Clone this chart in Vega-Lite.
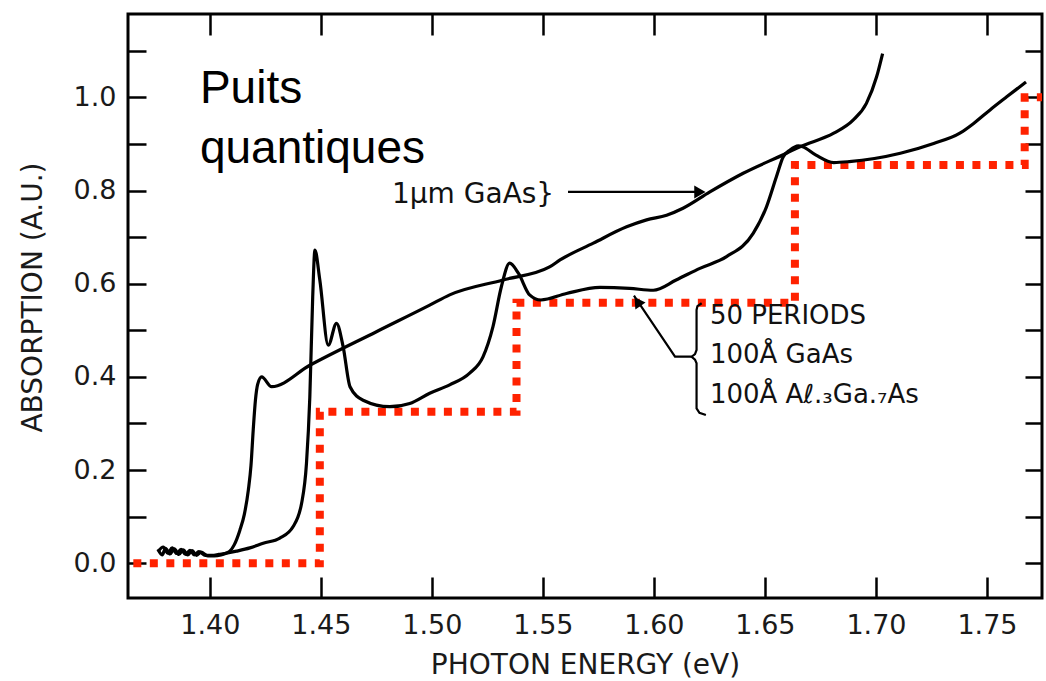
{
  "$schema": "https://vega.github.io/schema/vega-lite/v6.json",
  "width": 914,
  "height": 584,
  "autosize": {"type": "none"},
  "padding": {"left": 128, "top": 14, "right": 4, "bottom": 83},
  "background": "white",
  "config": {"view": {"stroke": "#000", "strokeWidth": 3}, "font": "DejaVu Sans"},
  "datasets": {
    "step": [
      {"x": 1.3655, "y": 0, "i": 0},
      {"x": 1.4495, "y": 0, "i": 1},
      {"x": 1.4495, "y": 0.325, "i": 2},
      {"x": 1.5381, "y": 0.325, "i": 3},
      {"x": 1.5381, "y": 0.559, "i": 4},
      {"x": 1.6635, "y": 0.559, "i": 5},
      {"x": 1.6635, "y": 0.855, "i": 6},
      {"x": 1.767, "y": 0.855, "i": 7},
      {"x": 1.767, "y": 1.0, "i": 8},
      {"x": 1.7748, "y": 1.0, "i": 9}
    ],
    "curves": [
      {"s": "bulk", "x": 1.3766, "y": 0.030},
      {"s": "bulk", "x": 1.3785, "y": 0.018},
      {"s": "bulk", "x": 1.3800, "y": 0.032},
      {"s": "bulk", "x": 1.3820, "y": 0.020},
      {"s": "bulk", "x": 1.3840, "y": 0.031},
      {"s": "bulk", "x": 1.3860, "y": 0.019},
      {"s": "bulk", "x": 1.3880, "y": 0.029},
      {"s": "bulk", "x": 1.3900, "y": 0.018},
      {"s": "bulk", "x": 1.3920, "y": 0.027},
      {"s": "bulk", "x": 1.3940, "y": 0.017},
      {"s": "bulk", "x": 1.3960, "y": 0.024},
      {"s": "bulk", "x": 1.3990, "y": 0.016},
      {"s": "bulk", "x": 1.4020, "y": 0.016},
      {"s": "bulk", "x": 1.4050, "y": 0.018},
      {"s": "bulk", "x": 1.4070, "y": 0.021},
      {"s": "bulk", "x": 1.4090, "y": 0.026},
      {"s": "bulk", "x": 1.4110, "y": 0.040},
      {"s": "bulk", "x": 1.4135, "y": 0.071},
      {"s": "bulk", "x": 1.4155, "y": 0.105},
      {"s": "bulk", "x": 1.4173, "y": 0.157},
      {"s": "bulk", "x": 1.4185, "y": 0.210},
      {"s": "bulk", "x": 1.4195, "y": 0.286},
      {"s": "bulk", "x": 1.4205, "y": 0.350},
      {"s": "bulk", "x": 1.4215, "y": 0.384},
      {"s": "bulk", "x": 1.4233, "y": 0.400},
      {"s": "bulk", "x": 1.4278, "y": 0.379},
      {"s": "bulk", "x": 1.4450, "y": 0.425},
      {"s": "bulk", "x": 1.4750, "y": 0.497},
      {"s": "bulk", "x": 1.4990, "y": 0.554},
      {"s": "bulk", "x": 1.5080, "y": 0.576},
      {"s": "bulk", "x": 1.5320, "y": 0.608},
      {"s": "bulk", "x": 1.5530, "y": 0.636},
      {"s": "bulk", "x": 1.5577, "y": 0.651},
      {"s": "bulk", "x": 1.5727, "y": 0.687},
      {"s": "bulk", "x": 1.5877, "y": 0.722},
      {"s": "bulk", "x": 1.5967, "y": 0.737},
      {"s": "bulk", "x": 1.6057, "y": 0.747},
      {"s": "bulk", "x": 1.6131, "y": 0.762},
      {"s": "bulk", "x": 1.6252, "y": 0.797},
      {"s": "bulk", "x": 1.6402, "y": 0.837},
      {"s": "bulk", "x": 1.6597, "y": 0.880},
      {"s": "bulk", "x": 1.6658, "y": 0.894},
      {"s": "bulk", "x": 1.6810, "y": 0.923},
      {"s": "bulk", "x": 1.6897, "y": 0.951},
      {"s": "bulk", "x": 1.6957, "y": 0.987},
      {"s": "bulk", "x": 1.7003, "y": 1.044},
      {"s": "bulk", "x": 1.7030, "y": 1.094},
      {"s": "qw", "x": 1.3766, "y": 0.025},
      {"s": "qw", "x": 1.3790, "y": 0.035},
      {"s": "qw", "x": 1.3810, "y": 0.022},
      {"s": "qw", "x": 1.3830, "y": 0.033},
      {"s": "qw", "x": 1.3850, "y": 0.021},
      {"s": "qw", "x": 1.3870, "y": 0.030},
      {"s": "qw", "x": 1.3890, "y": 0.019},
      {"s": "qw", "x": 1.3910, "y": 0.028},
      {"s": "qw", "x": 1.3930, "y": 0.018},
      {"s": "qw", "x": 1.3950, "y": 0.025},
      {"s": "qw", "x": 1.3980, "y": 0.017},
      {"s": "qw", "x": 1.4010, "y": 0.017},
      {"s": "qw", "x": 1.4040, "y": 0.019},
      {"s": "qw", "x": 1.4080, "y": 0.022},
      {"s": "qw", "x": 1.4120, "y": 0.026},
      {"s": "qw", "x": 1.4180, "y": 0.033},
      {"s": "qw", "x": 1.4240, "y": 0.043},
      {"s": "qw", "x": 1.4315, "y": 0.054},
      {"s": "qw", "x": 1.4375, "y": 0.079},
      {"s": "qw", "x": 1.4413, "y": 0.129},
      {"s": "qw", "x": 1.4435, "y": 0.215},
      {"s": "qw", "x": 1.4450, "y": 0.357},
      {"s": "qw", "x": 1.4463, "y": 0.572},
      {"s": "qw", "x": 1.4473, "y": 0.672},
      {"s": "qw", "x": 1.4495, "y": 0.608},
      {"s": "qw", "x": 1.4533, "y": 0.468},
      {"s": "qw", "x": 1.4570, "y": 0.515},
      {"s": "qw", "x": 1.4600, "y": 0.465},
      {"s": "qw", "x": 1.4631, "y": 0.379},
      {"s": "qw", "x": 1.4690, "y": 0.350},
      {"s": "qw", "x": 1.4810, "y": 0.336},
      {"s": "qw", "x": 1.4900, "y": 0.343},
      {"s": "qw", "x": 1.4990, "y": 0.365},
      {"s": "qw", "x": 1.5080, "y": 0.383},
      {"s": "qw", "x": 1.5170, "y": 0.408},
      {"s": "qw", "x": 1.5230, "y": 0.443},
      {"s": "qw", "x": 1.5275, "y": 0.508},
      {"s": "qw", "x": 1.5313, "y": 0.594},
      {"s": "qw", "x": 1.5350, "y": 0.644},
      {"s": "qw", "x": 1.5390, "y": 0.622},
      {"s": "qw", "x": 1.5440, "y": 0.576},
      {"s": "qw", "x": 1.5490, "y": 0.565},
      {"s": "qw", "x": 1.5606, "y": 0.579},
      {"s": "qw", "x": 1.5757, "y": 0.592},
      {"s": "qw", "x": 1.5890, "y": 0.590},
      {"s": "qw", "x": 1.5997, "y": 0.586},
      {"s": "qw", "x": 1.6100, "y": 0.608},
      {"s": "qw", "x": 1.6207, "y": 0.633},
      {"s": "qw", "x": 1.6327, "y": 0.658},
      {"s": "qw", "x": 1.6447, "y": 0.708},
      {"s": "qw", "x": 1.6507, "y": 0.765},
      {"s": "qw", "x": 1.6552, "y": 0.830},
      {"s": "qw", "x": 1.6582, "y": 0.872},
      {"s": "qw", "x": 1.6613, "y": 0.887},
      {"s": "qw", "x": 1.6650, "y": 0.896},
      {"s": "qw", "x": 1.6670, "y": 0.894},
      {"s": "qw", "x": 1.6730, "y": 0.876},
      {"s": "qw", "x": 1.6810, "y": 0.860},
      {"s": "qw", "x": 1.6880, "y": 0.862},
      {"s": "qw", "x": 1.7110, "y": 0.880},
      {"s": "qw", "x": 1.7260, "y": 0.901},
      {"s": "qw", "x": 1.7378, "y": 0.923},
      {"s": "qw", "x": 1.7440, "y": 0.944},
      {"s": "qw", "x": 1.7514, "y": 0.973},
      {"s": "qw", "x": 1.7589, "y": 1.001},
      {"s": "qw", "x": 1.7676, "y": 1.033}
    ],
    "ann": [
      {"g": "a1", "i": 0, "x": 1.5613, "y": 0.797},
      {"g": "a1", "i": 1, "x": 1.6194, "y": 0.797},
      {"g": "a2", "i": 0, "x": 1.6170, "y": 0.4433},
      {"g": "a2", "i": 1, "x": 1.6095, "y": 0.4433},
      {"g": "a2", "i": 2, "x": 1.5910, "y": 0.5745},
      {"g": "b", "i": 0, "x": 1.6215, "y": 0.558},
      {"g": "b", "i": 1, "x": 1.6196, "y": 0.552},
      {"g": "b", "i": 2, "x": 1.6192, "y": 0.5436},
      {"g": "b", "i": 3, "x": 1.6192, "y": 0.4577},
      {"g": "b", "i": 4, "x": 1.6185, "y": 0.4490},
      {"g": "b", "i": 5, "x": 1.6170, "y": 0.4433},
      {"g": "b", "i": 6, "x": 1.6185, "y": 0.4370},
      {"g": "b", "i": 7, "x": 1.6192, "y": 0.4292},
      {"g": "b", "i": 8, "x": 1.6192, "y": 0.3326},
      {"g": "b", "i": 9, "x": 1.6205, "y": 0.3230},
      {"g": "b", "i": 10, "x": 1.6234, "y": 0.3182}
    ],
    "puits": [
      {"x": 1.3955, "y": 0.988, "t": "Puits"},
      {"x": 1.3955, "y": 0.859, "t": "quantiques"}
    ],
    "bulklabel": [
      {"x": 1.482, "y": 0.773, "t": "1μm GaAs}"}
    ],
    "qwlabel": [
      {"x": 1.6252, "y": 0.513, "t": "50 PERIODS"},
      {"x": 1.6252, "y": 0.429, "t": "100Å GaAs"},
      {"x": 1.6252, "y": 0.344, "t": "100Å Aℓ.₃Ga.₇As"}
    ],
    "head1": [{"x": 1.6207, "y": 0.797}],
    "head2": [{"x": 1.5926, "y": 0.5616}]
  },
  "layer": [
    {
      "data": {"name": "step"},
      "mark": {"type": "line", "color": "#ff2200", "strokeWidth": 8, "strokeDash": [8, 8.5], "strokeCap": "butt", "clip": true},
      "encoding": {
        "x": {"field": "x", "type": "quantitative", "scale": {"domain": [1.3631, 1.7748], "nice": false, "zero": false},
          "axis": {"orient": "bottom", "values": [1.40, 1.45, 1.50, 1.55, 1.60, 1.65, 1.70, 1.75], "format": ".2f",
            "domain": false, "grid": false, "tickSize": -21, "tickWidth": 2.5, "tickColor": "#000",
            "labelPadding": 35, "labelFontSize": 27, "labelColor": "#1a1a1a", "labelFont": "DejaVu Sans", "labelFlush": false, "labelOverlap": false,
            "title": "PHOTON ENERGY (eV)", "titleFont": "DejaVu Sans", "titleFontSize": 28, "titleFontWeight": "normal", "titleColor": "#1a1a1a",
            "titleX": 457, "titleY": 75, "titleAlign": "center", "titleBaseline": "alphabetic"}},
        "y": {"field": "y", "type": "quantitative", "scale": {"domain": [-0.0745, 1.1788], "nice": false, "zero": false},
          "axis": {"orient": "left", "values": [0, 0.1, 0.2, 0.3, 0.4, 0.5, 0.6, 0.7, 0.8, 0.9, 1.0, 1.1],
            "labelExpr": "round(datum.value*10) % 2 == 0 ? format(datum.value, '.1f') : ''",
            "domain": false, "grid": false, "tickSize": -18, "tickWidth": 2.5, "tickColor": "#000",
            "labelPadding": 30, "labelFontSize": 27, "labelColor": "#1a1a1a", "labelFont": "DejaVu Sans", "labelFlush": false, "labelOverlap": false,
            "title": "ABSORPTION (A.U.)", "titleFont": "DejaVu Sans", "titleFontSize": 28, "titleFontWeight": "normal", "titleColor": "#1a1a1a",
            "titleAngle": -90, "titleX": -87, "titleY": 283, "titleAlign": "center", "titleBaseline": "alphabetic"}},
        "order": {"field": "i", "type": "quantitative"}
      }
    },
    {
      "data": {"name": "curves"},
      "mark": {"type": "line", "color": "#000", "strokeWidth": 3.2, "interpolate": "monotone", "clip": true},
      "encoding": {
        "x": {"field": "x", "type": "quantitative", "scale": {"domain": [1.3631, 1.7748], "nice": false, "zero": false},
          "axis": {"orient": "top", "values": [1.40, 1.45, 1.50, 1.55, 1.60, 1.65, 1.70, 1.75], "labels": false, "title": null,
            "domain": false, "grid": false, "tickSize": -21, "tickWidth": 2.5, "tickColor": "#000"}},
        "y": {"field": "y", "type": "quantitative", "scale": {"domain": [-0.0745, 1.1788], "nice": false, "zero": false},
          "axis": {"orient": "right", "values": [0, 0.1, 0.2, 0.3, 0.4, 0.5, 0.6, 0.7, 0.8, 0.9, 1.0, 1.1], "labels": false, "title": null,
            "domain": false, "grid": false, "tickSize": -17, "tickWidth": 2.5, "tickColor": "#000"}},
        "detail": {"field": "s", "type": "nominal"}
      }
    },
    {
      "data": {"name": "ann"},
      "mark": {"type": "line", "color": "#000", "strokeWidth": 2.2, "clip": true},
      "encoding": {
        "x": {"field": "x", "type": "quantitative", "scale": {"domain": [1.3631, 1.7748], "nice": false, "zero": false}, "axis": null},
        "y": {"field": "y", "type": "quantitative", "scale": {"domain": [-0.0745, 1.1788], "nice": false, "zero": false}, "axis": null},
        "detail": {"field": "g", "type": "nominal"},
        "order": {"field": "i", "type": "quantitative"}
      }
    },
    {
      "data": {"name": "head1"},
      "mark": {"type": "point", "shape": "triangle-right", "filled": true, "color": "#000", "opacity": 1, "size": 170},
      "encoding": {
        "x": {"field": "x", "type": "quantitative", "scale": {"domain": [1.3631, 1.7748], "nice": false, "zero": false}, "axis": null},
        "y": {"field": "y", "type": "quantitative", "scale": {"domain": [-0.0745, 1.1788], "nice": false, "zero": false}, "axis": null}
      }
    },
    {
      "data": {"name": "head2"},
      "mark": {"type": "point", "shape": "triangle-up", "angle": -34, "filled": true, "color": "#000", "opacity": 1, "size": 150},
      "encoding": {
        "x": {"field": "x", "type": "quantitative", "scale": {"domain": [1.3631, 1.7748], "nice": false, "zero": false}, "axis": null},
        "y": {"field": "y", "type": "quantitative", "scale": {"domain": [-0.0745, 1.1788], "nice": false, "zero": false}, "axis": null}
      }
    },
    {
      "data": {"name": "puits"},
      "mark": {"type": "text", "font": "Liberation Sans", "fontSize": 46, "color": "#000", "align": "left", "baseline": "alphabetic"},
      "encoding": {
        "x": {"field": "x", "type": "quantitative", "scale": {"domain": [1.3631, 1.7748], "nice": false, "zero": false}, "axis": null},
        "y": {"field": "y", "type": "quantitative", "scale": {"domain": [-0.0745, 1.1788], "nice": false, "zero": false}, "axis": null},
        "text": {"field": "t"}
      }
    },
    {
      "data": {"name": "bulklabel"},
      "mark": {"type": "text", "font": "DejaVu Sans", "fontSize": 28, "color": "#111", "align": "left", "baseline": "alphabetic"},
      "encoding": {
        "x": {"field": "x", "type": "quantitative", "scale": {"domain": [1.3631, 1.7748], "nice": false, "zero": false}, "axis": null},
        "y": {"field": "y", "type": "quantitative", "scale": {"domain": [-0.0745, 1.1788], "nice": false, "zero": false}, "axis": null},
        "text": {"field": "t"}
      }
    },
    {
      "data": {"name": "qwlabel"},
      "mark": {"type": "text", "font": "DejaVu Sans", "fontSize": 26, "color": "#111", "align": "left", "baseline": "alphabetic"},
      "encoding": {
        "x": {"field": "x", "type": "quantitative", "scale": {"domain": [1.3631, 1.7748], "nice": false, "zero": false}, "axis": null},
        "y": {"field": "y", "type": "quantitative", "scale": {"domain": [-0.0745, 1.1788], "nice": false, "zero": false}, "axis": null},
        "text": {"field": "t"}
      }
    }
  ],
  "resolve": {"scale": {"x": "independent", "y": "independent"}, "axis": {"x": "independent", "y": "independent"}}
}
